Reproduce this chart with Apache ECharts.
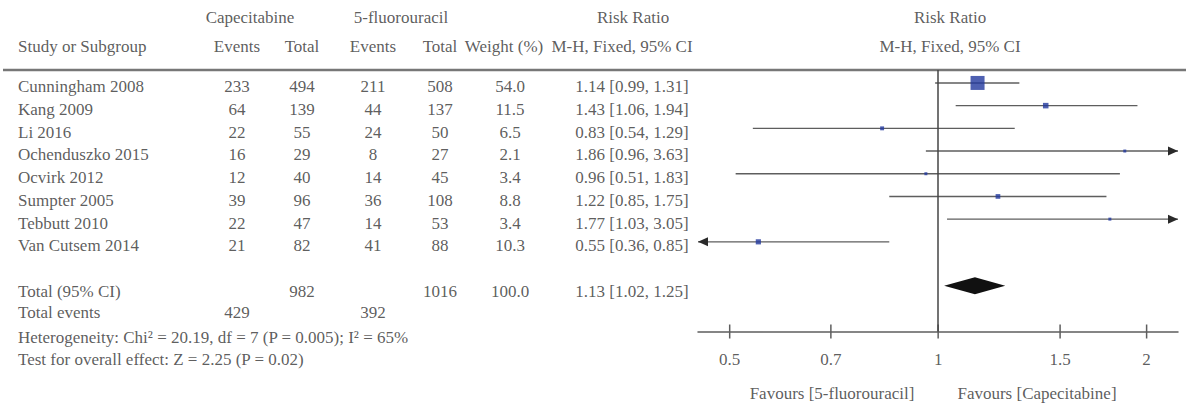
<!DOCTYPE html>
<html><head><meta charset="utf-8">
<script src="https://cdn.jsdelivr.net/npm/echarts@6/dist/echarts.min.js"></script>
<style>html,body{margin:0;padding:0;background:#fff}#c{width:1186px;height:405px}</style>
</head><body><div id="c"></div>
<script>
// ---- data ----
const studies = ['Cunningham 2008','Kang 2009','Li 2016','Ochenduszko 2015','Ocvirk 2012','Sumpter 2005','Tebbutt 2010','Van Cutsem 2014'];
const capEvents = [233, 64, 22, 16, 12, 39, 22, 21];
const capTotal  = [494, 139, 55, 29, 40, 96, 47, 82];
const fuEvents  = [211, 44, 24, 8, 14, 36, 14, 41];
const fuTotal   = [508, 137, 50, 27, 45, 108, 53, 88];
const weights   = [54.0, 11.5, 6.5, 2.1, 3.4, 8.8, 3.4, 10.3];
const rr        = [1.14, 1.43, 0.83, 1.86, 0.96, 1.22, 1.77, 0.55];
const rrLow     = [0.99, 1.06, 0.54, 0.96, 0.51, 0.85, 1.03, 0.36];
const rrHigh    = [1.31, 1.94, 1.29, 3.63, 1.83, 1.75, 3.05, 0.85];
const totalCounts = [982, 1016];       // Capecitabine total, 5-FU total
const totalEvents = [429, 392];        // Capecitabine events, 5-FU events
const totalWeight = 100.0;
const totalRR = [1.13, 1.02, 1.25];    // estimate, low, high
const tickValues = [0.5, 0.7, 1, 1.5, 2];
const tickLabels = ['0.5', '0.7', '1', '1.5', '2'];
const heterogeneityText = 'Heterogeneity: Chi² = 20.19, df = 7 (P = 0.005); I² = 65%';
const overallText = 'Test for overall effect: Z = 2.25 (P = 0.02)';
const favourLeft = 'Favours [5-fluorouracil]';
const favourRight = 'Favours [Capecitabine]';

// ---- layout ----
const FONT = 'Liberation Serif';
const FS = 17;
const TXT = '#333';
const LINE = '#5e5e5e';
const BLUE = '#22389e';
const xMin = 0.45, xMax = 2.22;
const yMin = -0.57, yMax = 10.95;
const col = {study: 18, capE: 237, capT: 302, fuE: 373, fuT: 440, w: 510, rr: 632, capHead: 250, fuHead: 401, wHead: 504, ciHead: 622, rrHead: 633, plot: 950, favL: 832, favR: 1037};
const rowOff = 0.17;
const fmt2 = v => v.toFixed(2);

const rowsY = studies.map((_, i) => i + rowOff);
const tableItems = [];
studies.forEach((s, i) => {
  tableItems.push([col.capE, rowsY[i], String(capEvents[i])]);
  tableItems.push([col.capT, rowsY[i], String(capTotal[i])]);
  tableItems.push([col.fuE, rowsY[i], String(fuEvents[i])]);
  tableItems.push([col.fuT, rowsY[i], String(fuTotal[i])]);
  tableItems.push([col.w, rowsY[i], weights[i].toFixed(1)]);
  tableItems.push([col.rr, rowsY[i], `${fmt2(rr[i])} [${fmt2(rrLow[i])}, ${fmt2(rrHigh[i])}]`]);
});
const yTotal = 9.2, yTotEv = 10.13, yHet = 11.23, yTest = 12.2, yH1 = -2.9, yH2 = -1.59, yFav = 13.66;
tableItems.push([col.capT, yTotal, String(totalCounts[0])]);
tableItems.push([col.fuT, yTotal, String(totalCounts[1])]);
tableItems.push([col.w, yTotal, totalWeight.toFixed(1)]);
tableItems.push([col.rr, yTotal, `${fmt2(totalRR[0])} [${fmt2(totalRR[1])}, ${fmt2(totalRR[2])}]`]);
tableItems.push([col.capE, yTotEv, String(totalEvents[0])]);
tableItems.push([col.fuE, yTotEv, String(totalEvents[1])]);
// headers
tableItems.push([col.capHead, yH1, 'Capecitabine']);
tableItems.push([col.fuHead, yH1, '5-fluorouracil']);
tableItems.push([col.rrHead, yH1, 'Risk Ratio']);
tableItems.push([col.plot, yH1, 'Risk Ratio']);
tableItems.push([col.capE, yH2, 'Events']);
tableItems.push([col.capT, yH2, 'Total']);
tableItems.push([col.fuE, yH2, 'Events']);
tableItems.push([col.fuT, yH2, 'Total']);
tableItems.push([col.wHead, yH2, 'Weight (%)']);
tableItems.push([col.ciHead, yH2, 'M-H, Fixed, 95% CI']);
tableItems.push([col.plot, yH2, 'M-H, Fixed, 95% CI']);
tableItems.push([col.favL, yFav, favourLeft]);
tableItems.push([col.favR, yFav, favourRight]);

const leftItems = studies.map((s, i) => [col.study, rowsY[i], s]);
leftItems.push([col.study, yH2, 'Study or Subgroup']);
leftItems.push([col.study, yTotal, 'Total (95% CI)']);
leftItems.push([col.study, yTotEv, 'Total events']);
leftItems.push([col.study, yHet, heterogeneityText]);
leftItems.push([col.study, yTest, overallText]);

const leftSeries = {
  type: 'scatter', xAxisIndex: 1, yAxisIndex: 1, symbolSize: 0, silent: true,
  data: leftItems.map(d => ({value: [d[0], d[1]], name: d[2]})),
  label: {show: true, position: 'right', distance: 0, fontFamily: FONT, fontSize: FS, color: TXT, formatter: p => p.name}
};
const centerSeries = {
  type: 'scatter', xAxisIndex: 1, yAxisIndex: 1, symbolSize: 0, silent: true,
  data: tableItems.map(d => ({value: [d[0], d[1]], name: d[2]})),
  label: {show: true, position: 'inside', fontFamily: FONT, fontSize: FS, color: TXT, formatter: p => p.name}
};

// CI lines with arrows
const ciSeries = {
  type: 'custom', xAxisIndex: 0, yAxisIndex: 0, silent: true,
  data: studies.map((s, i) => [i, rrLow[i], rrHigh[i]]),
  encode: {x: [1, 2], y: 0},
  renderItem: (params, api) => {
    const y = api.value(0), lo = api.value(1), hi = api.value(2);
    const p1 = api.coord([Math.max(lo, xMin), y]);
    const p2 = api.coord([Math.min(hi, xMax), y]);
    const children = [{type: 'line', shape: {x1: p1[0], y1: p1[1], x2: p2[0], y2: p2[1]}, style: {stroke: LINE, lineWidth: 1.4}}];
    if (hi > xMax) children.push({type: 'polygon', shape: {points: [[p2[0], p2[1]], [p2[0] - 10, p2[1] - 4.5], [p2[0] - 10, p2[1] + 4.5]]}, style: {fill: '#2a2a2a'}});
    if (lo < xMin) children.push({type: 'polygon', shape: {points: [[p1[0], p1[1]], [p1[0] + 10, p1[1] - 4.5], [p1[0] + 10, p1[1] + 4.5]]}, style: {fill: '#2a2a2a'}});
    return {type: 'group', children};
  }
};
// axis tick marks crossing the axis line
const tickSeries = {
  type: 'custom', xAxisIndex: 0, yAxisIndex: 0, silent: true,
  data: tickValues.map(v => [v, yMax]),
  encode: {x: 0, y: 1},
  renderItem: (params, api) => {
    const p = api.coord([api.value(0), api.value(1)]);
    return {type: 'line', shape: {x1: p[0], y1: p[1] - 7, x2: p[0], y2: p[1] + 7}, style: {stroke: LINE, lineWidth: 1.5}};
  }
};
// tick labels placed through the log axis
const tickLabelSeries = {
  type: 'scatter', xAxisIndex: 0, yAxisIndex: 0, symbolSize: 0, silent: true, clip: false,
  data: tickValues.map((v, i) => ({value: [v, yMax], name: tickLabels[i]})),
  label: {show: true, position: 'bottom', distance: 19, fontFamily: FONT, fontSize: FS, fontWeight: 'normal', color: TXT, formatter: p => p.name}
};
const pointSeries = {
  type: 'scatter', xAxisIndex: 0, yAxisIndex: 0, silent: true, symbol: 'rect',
  data: studies.map((s, i) => [rr[i], i, weights[i]]),
  symbolSize: v => Math.max(3, 14 * Math.pow(v[2] / 54, 0.6)),
  itemStyle: {color: BLUE},
  z: 5,
  markLine: {silent: true, symbol: ['none', 'none'], label: {show: false}, lineStyle: {color: '#444', width: 1.5, type: 'solid'}, data: [{xAxis: 1}], animation: false}
};
const diamondSeries = {
  type: 'custom', xAxisIndex: 0, yAxisIndex: 0, silent: true,
  data: [[8.94, totalRR[1], totalRR[0], totalRR[2]]],
  encode: {x: [1, 2, 3], y: 0},
  renderItem: (params, api) => {
    const y = api.value(0);
    const a = api.coord([api.value(1), y]), b = api.coord([api.value(2), y]), c = api.coord([api.value(3), y]);
    const h = 8.5;
    return {type: 'polygon', shape: {points: [[a[0], a[1]], [b[0], b[1] - h], [c[0], c[1]], [b[0], b[1] + h]]}, style: {fill: '#111'}};
  }
};

const option = {
  animation: false,
  backgroundColor: '#fff',
  grid: [
    {left: 698, right: 8, top: 70, height: 261.5},
    {left: 0, right: 0, top: 0, bottom: 0}
  ],
  xAxis: [
    {gridIndex: 0, type: 'log', logBase: 10, min: xMin, max: xMax, position: 'bottom',
      splitLine: {show: false},
      axisLine: {show: true, onZero: false, lineStyle: {color: LINE, width: 1.5}},
      axisTick: {show: false},
      axisLabel: {show: false}
    },
    {gridIndex: 1, type: 'value', min: 0, max: 1186, show: false}
  ],
  yAxis: [
    {gridIndex: 0, type: 'value', inverse: true, min: yMin, max: yMax, show: false},
    {gridIndex: 1, type: 'value', inverse: true, min: -3.656, max: 14.185, show: false}
  ],
  graphic: [
    {type: 'line', shape: {x1: 3, y1: 70, x2: 1186, y2: 70}, style: {stroke: '#777', lineWidth: 2.5}, silent: true}
  ],
  series: [ciSeries, tickSeries, tickLabelSeries, pointSeries, diamondSeries, leftSeries, centerSeries]
};
const chart = echarts.init(document.getElementById('c'), null, {renderer: 'svg'});
chart.setOption(option);
</script></body></html>
